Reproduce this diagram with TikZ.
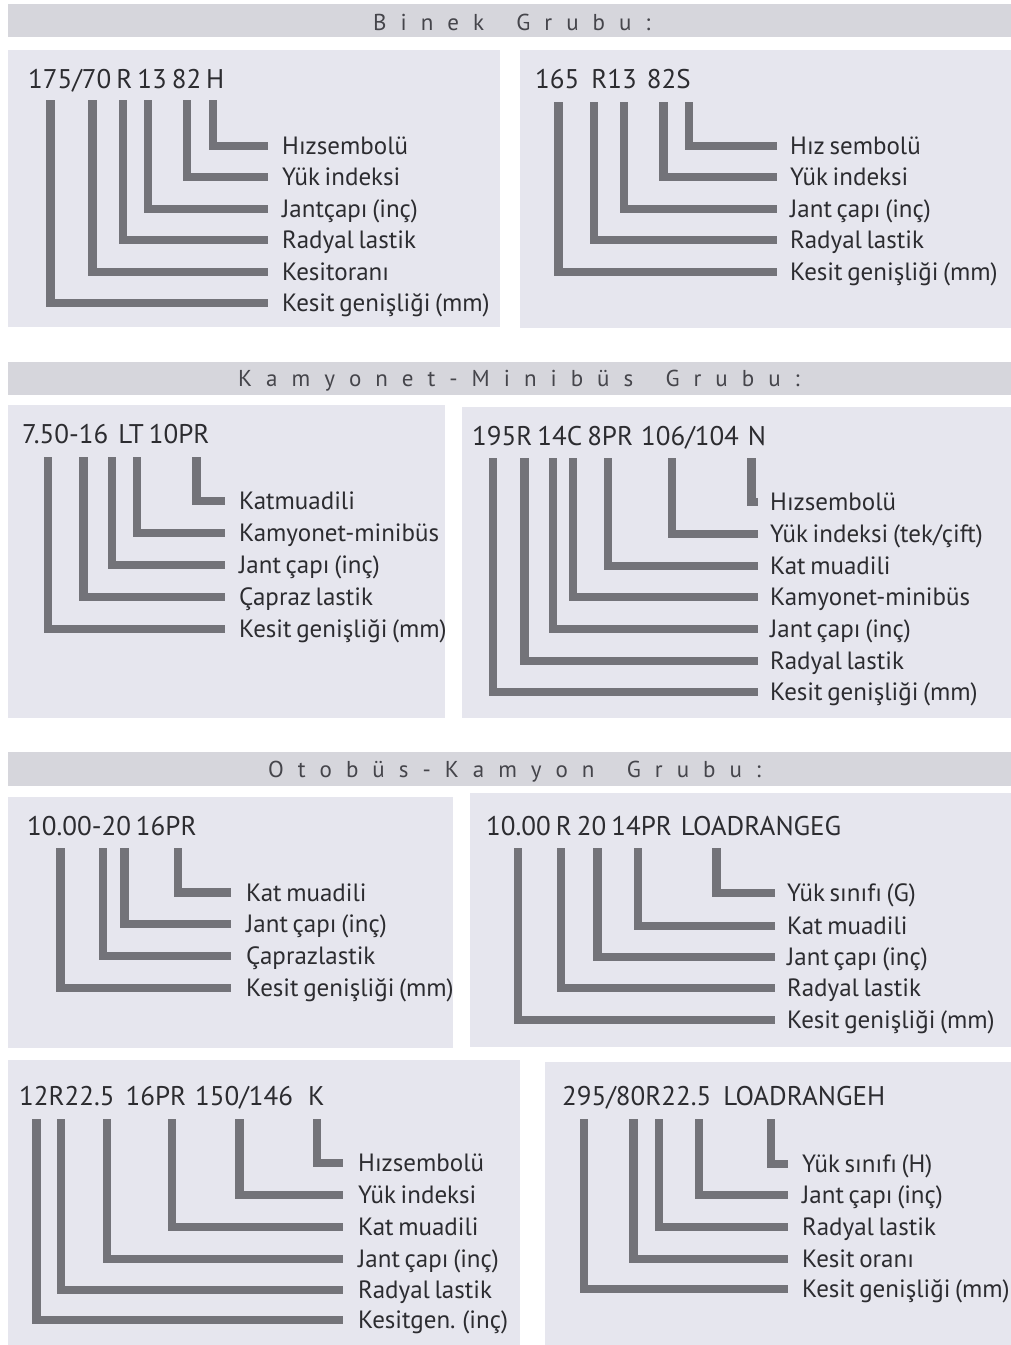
\documentclass[tikz,border=0pt]{standalone}
\usepackage{fontspec}
\setmainfont{PT Sans}[WordSpace=0.7]
\definecolor{panelc}{HTML}{E6E6EE}
\definecolor{bandc}{HTML}{D6D6DC}
\definecolor{barc}{HTML}{737379}
\definecolor{txtc}{HTML}{2C2C30}
\definecolor{hdrc}{HTML}{45454B}
\def\spreadit#1{\ifx#1\relax\else#1\kern14pt\expandafter\spreadit\fi}
\newcommand\mycodefont{\fontsize{27}{30}\selectfont\spaceskip 5pt\relax}
\tikzset{
  panel/.style={fill=panelc},
  band/.style={fill=bandc},
  hdr/.style={anchor=base west,inner sep=0,text=hdrc,font=\fontsize{23}{25}\selectfont},
  code/.style={anchor=base west,inner sep=0,text=txtc,font=\mycodefont},
  lbl/.style={anchor=west,inner sep=0,text height=17.5pt,text depth=0pt,text=txtc,font=\fontsize{25}{27}\selectfont},
  bar/.style={draw=barc,line width=8.5pt,line cap=butt,line join=miter},
}
\begin{document}
\begin{tikzpicture}[x=1pt,y=-1pt]
\fill[white] (0,0) rectangle (1011,1345);
\useasboundingbox (0,0) rectangle (1011,1345);
% header bands
\fill[band] (8,4) rectangle (1011,37);
\fill[band] (8,362) rectangle (1011,395);
\fill[band] (8,752) rectangle (1011,786);
\node[hdr] (h1) at (373,30) {\spreadit Binek~Grubu:\relax};
\node[hdr] (h2) at (238,386) {\spreadit Kamyonet-Minibüs~Grubu:\relax};
\node[hdr] (h3) at (268,777) {\spreadit Otobüs-Kamyon~Grubu:\relax};
% panels
\fill[panel] (8,50) rectangle (500,327);
\fill[panel] (520,50) rectangle (1011,328);
\fill[panel] (8,405) rectangle (445,718);
\fill[panel] (462,407) rectangle (1011,718);
\fill[panel] (8,797) rectangle (453,1048);
\fill[panel] (470,793) rectangle (1011,1047);
\fill[panel] (8,1060) rectangle (520,1345);
\fill[panel] (545,1062) rectangle (1011,1345);
% ---------- panel 1
\node[code] (c1) at (28,88) {175/70 R 13 82 H};
\foreach \x/\y/\t [count=\i] in {50.5/303/{Kesit genişliği (mm)},92.5/272/{Kesitoranı},123/240/{Radyal lastik},148/209/{Jantçapı (inç)},187/177/{Yük indeksi},213/146/{Hızsembolü}}{
  \node[lbl] (a\i) at (282,\y) {\t};
  \coordinate (at\i) at (\x,100);
  \draw[bar] (at\i) |- ([xshift=-14]a\i.west);
}
% ---------- panel 2
\node[code] (c2) at (535,88) {165\hspace{12pt}R13\hspace{10pt}82S};
\foreach \x/\y/\t [count=\i] in {558.5/272/{Kesit genişliği (mm)},594/240/{Radyal lastik},624/209/{Jant çapı (inç)},663.5/177/{Yük indeksi},689/146/{Hız sembolü}}{
  \node[lbl] (b\i) at (790,\y) {\t};
  \coordinate (bt\i) at (\x,102);
  \draw[bar] (bt\i) |- ([xshift=-13]b\i.west);
}
% ---------- panel 3
\node[code] (c3) at (22,443) {7.50-16\hspace{10pt}LT 10PR};
\foreach \x/\y/\t [count=\i] in {48/629/{Kesit genişliği (mm)},83.5/597/{Çapraz lastik},112/565/{Jant çapı (inç)},137/533/{Kamyonet-minibüs},196.5/501/{Katmuadili}}{
  \node[lbl] (d\i) at (239,\y) {\t};
  \coordinate (dt\i) at (\x,457);
  \draw[bar] (dt\i) |- ([xshift=-14]d\i.west);
}
% ---------- panel 4
\node[code] (c4) at (472,445) {195R 14C 8PR\hspace{8pt}106/104\hspace{9pt}N};
\foreach \x/\y/\t [count=\i] in {493/692/{Kesit genişliği (mm)},524.5/661/{Radyal lastik},553/629/{Jant çapı (inç)},573/597/{Kamyonet-minibüs},608/566/{Kat muadili},672/534/{Yük indeksi (tek/çift)},751.5/502/{Hızsembolü}}{
  \node[lbl] (e\i) at (770,\y) {\t};
  \coordinate (et\i) at (\x,458);
  \draw[bar] (et\i) |- ([xshift=-12]e\i.west);
}
% ---------- panel 5
\node[code] (c5) at (27,835) {10.00-20 16PR};
\foreach \x/\y/\t [count=\i] in {60.5/988/{Kesit genişliği (mm)},103/956/{Çaprazlastik},124.5/924/{Jant çapı (inç)},178/892.5/{Kat muadili}}{
  \node[lbl] (f\i) at (246,\y) {\t};
  \coordinate (ft\i) at (\x,848);
  \draw[bar] (ft\i) |- ([xshift=-15]f\i.west);
}
% ---------- panel 6
\node[code] (c6) at (486,835) {10.00 R 20 14PR\hspace{9pt}LOADRANGEG};
\foreach \x/\y/\t [count=\i] in {518/1020/{Kesit genişliği (mm)},561/988/{Radyal lastik},597.5/957/{Jant çapı (inç)},638/926/{Kat muadili},716.5/893/{Yük sınıfı (G)}}{
  \node[lbl] (g\i) at (787,\y) {\t};
  \coordinate (gt\i) at (\x,848);
  \draw[bar] (gt\i) |- ([xshift=-12]g\i.west);
}
% ---------- panel 7
\node[code] (c7) at (19,1105) {12R22.5\hspace{11pt}16PR\hspace{9pt}150/146\hspace{15pt}K};
\foreach \x/\y/\t [count=\i] in {36.5/1320/{Kesitgen. (inç)},61/1290/{Radyal lastik},107/1259/{Jant çapı (inç)},172/1227/{Kat muadili},239.5/1195/{Yük indeksi},317/1163/{Hızsembolü}}{
  \node[lbl] (k\i) at (358,\y) {\t};
  \coordinate (kt\i) at (\x,1119);
  \draw[bar] (kt\i) |- ([xshift=-15]k\i.west);
}
% ---------- panel 8
\node[code] (c8) at (562,1105) {295/80R22.5\hspace{12pt}LOADRANGEH};
\foreach \x/\y/\t [count=\i] in {584/1289/{Kesit genişliği (mm)},633.5/1259/{Kesit oranı},659/1227/{Radyal lastik},699/1195/{Jant çapı (inç)},771/1164/{Yük sınıfı (H)}}{
  \node[lbl] (m\i) at (802,\y) {\t};
  \coordinate (mt\i) at (\x,1119);
  \draw[bar] (mt\i) |- ([xshift=-14]m\i.west);
}
\end{tikzpicture}
\end{document}
